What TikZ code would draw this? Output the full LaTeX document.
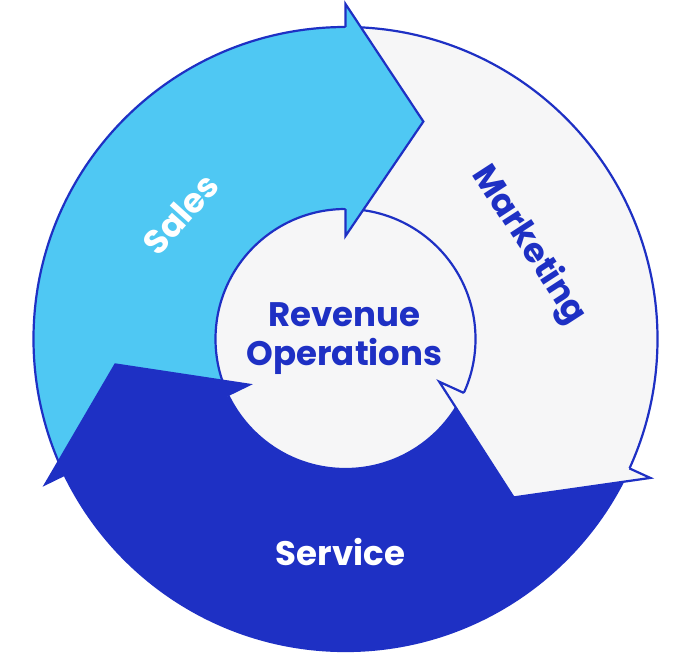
\documentclass[tikz,border=0pt]{standalone}
\usepackage{fontspec}
\setmainfont{Poppins}
\definecolor{salesblue}{RGB}{79,200,243}
\definecolor{deepblue}{RGB}{30,48,196}
\definecolor{paleshade}{RGB}{246,246,247}

\begin{document}
\begin{tikzpicture}[
  x=1pt, y=1pt,
  rim/.style={draw=deepblue, line width=2.2pt},
  headline/.style={draw=deepblue, line width=2.2pt, line join=miter},
  lbl/.style={font=\fontsize{34}{39}\selectfont\bfseries, inner sep=0pt, align=center}
]
\useasboundingbox[fill=white] (-345.5pt,-320pt) rectangle (346.5pt,339pt);

% Ring sectors, one per stage (tails sit under the previous head)
\fill[salesblue] (206:312pt) arc[start angle=206, end angle=90, radius=312pt] -- (90:130pt) arc[start angle=90, end angle=206, radius=130pt] -- cycle;
\fill[paleshade] (90:312pt) arc[start angle=90, end angle=-24.5, radius=312pt] -- (-24.5:130pt) arc[start angle=-24.5, end angle=90, radius=130pt] -- cycle;
\fill[deepblue] (-24.5:312pt) arc[start angle=-24.5, end angle=-154, radius=312pt] -- (-154:130pt) arc[start angle=-154, end angle=-24.5, radius=130pt] -- cycle;

% Hub and rims
\fill[paleshade] (0,0) circle[radius=130pt];
\draw[rim] (0,0) circle[radius=312pt];
\draw[rim] (0,0) circle[radius=130pt];

% Heads: Sales -> Marketing -> Service -> Sales
% (second part of each fill hides the seam along the head base)
\fill[salesblue] (90:130pt) -- (90:103pt) -- (70.3:231pt) -- (90:335pt) -- (90:312pt) -- cycle
  (91:131.5pt) -- (89:131.5pt) -- (89:310.5pt) -- (91:310.5pt) -- cycle;
\draw[headline] (90:130pt) -- (90:103pt) -- (70.3:231pt) -- (90:335pt) -- (90:312pt);
\fill[paleshade] (-24.5:130pt) -- (-24.5:103pt) -- (-43.3:231pt) -- (-24.5:335pt) -- (-24.5:312pt) -- cycle
  (-23.5:131.5pt) -- (-25.5:131.5pt) -- (-25.5:310.5pt) -- (-23.5:310.5pt) -- cycle;
\draw[headline] (-24.5:130pt) -- (-24.5:103pt) -- (-43.3:231pt) -- (-24.5:335pt) -- (-24.5:312pt);
\fill[deepblue] (206:130pt) -- (206:103pt) -- (186:232pt) -- (206:337pt) -- (206:312pt) -- cycle
  (207:131.5pt) -- (205:131.5pt) -- (205:310.5pt) -- (207:310.5pt) -- cycle;

% Labels
\node[lbl, text=white, rotate=48] (sales) at (-165pt,125pt) {Sales};
\node[lbl, text=deepblue, rotate=-57] (marketing) at (183pt,94pt) {Marketing};
\node[lbl, text=white] (service) at (-5pt,-213pt) {Service};
\node[lbl, text=deepblue] (revops) at (-1pt,0pt) {Revenue\\Operations};
\end{tikzpicture}
\end{document}
